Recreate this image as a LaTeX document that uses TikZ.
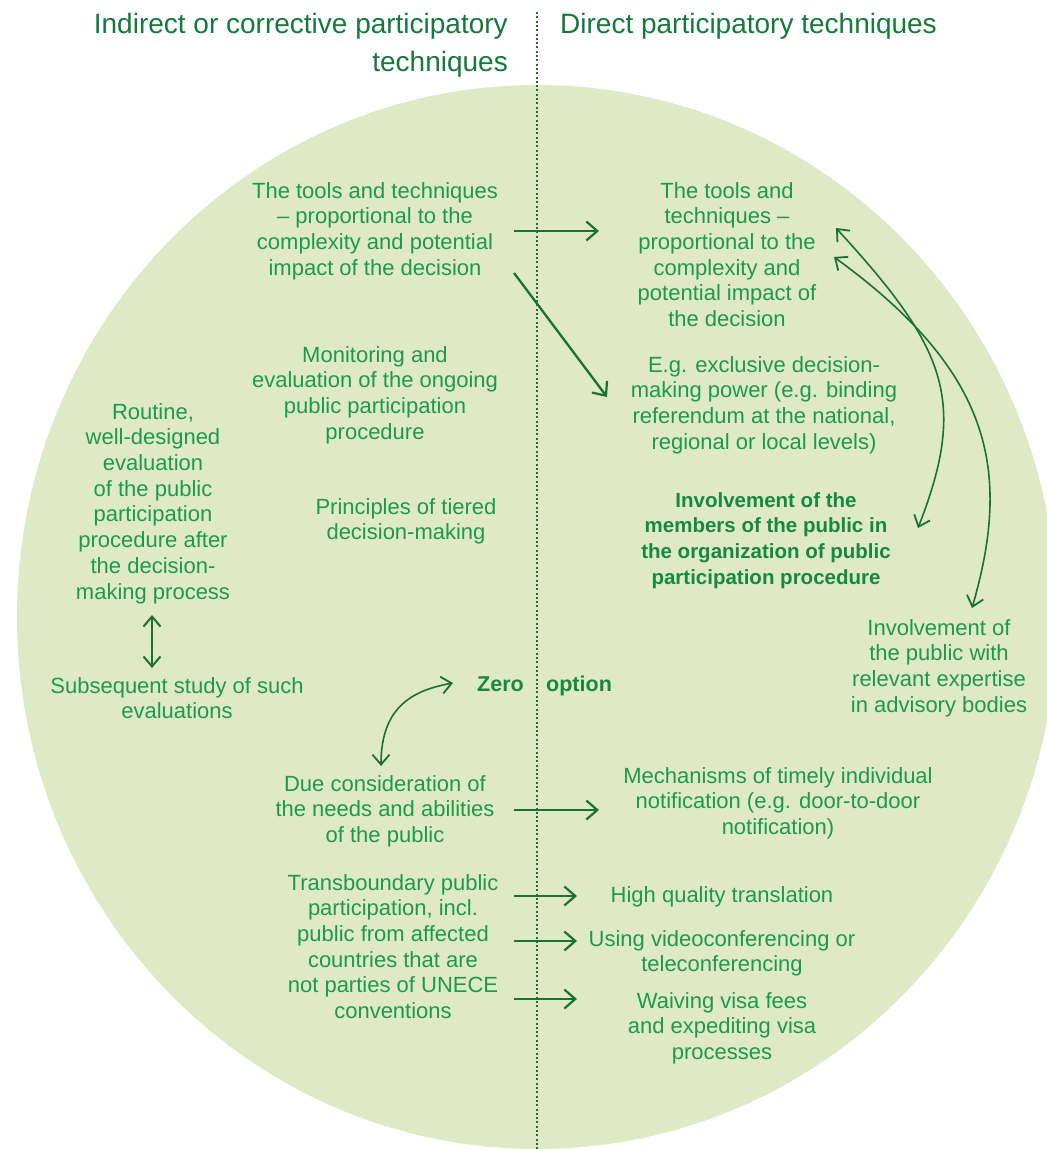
\documentclass[tikz,border=0pt]{standalone}
\usepackage{fontspec}
\setmainfont{Liberation Sans}
\usetikzlibrary{arrows.meta}
\definecolor{bgc}{HTML}{E0E9C6}
\definecolor{txtc}{HTML}{1B9B4A}
\definecolor{ttlc}{HTML}{14793B}
\definecolor{bldc}{HTML}{148A3F}
\definecolor{arrc}{HTML}{1A7035}
\begin{document}
\begin{tikzpicture}[x=1pt,y=-1pt,
  body/.style={text=txtc, align=center, inner sep=0pt, font=\fontsize{22}{25.7}\selectfont, anchor=north},
  boldtxt/.style={body, text=bldc, font=\bfseries\fontsize{20.5}{25.7}\selectfont},
  zerotxt/.style={text=bldc, inner sep=0pt, font=\bfseries\fontsize{21.5}{25.7}\selectfont},
  ttl/.style={text=ttlc, inner sep=0pt, font=\fontsize{28}{38}\selectfont},
  thick arrow/.style={draw=arrc, line width=2.3pt, -{Straight Barb[length=11pt,width=19pt,line width=2.2pt]}},
  both arrow/.style={draw=arrc, line width=2.1pt, {Straight Barb[length=10pt,width=17pt,line width=2pt]}-{Straight Barb[length=10pt,width=17pt,line width=2pt]}},
  thin arrow/.style={draw=arrc, line width=1.6pt, {Straight Barb[length=10pt,width=17pt,line width=1.8pt]}-{Straight Barb[length=10pt,width=17pt,line width=1.8pt]}},
  divider/.style={draw=arrc, line width=2pt, dash pattern=on 2pt off 2.3pt}
]
\useasboundingbox (0,0) rectangle (1047,1149);
\begin{scope}
\clip (0,0) rectangle (1047,1149);
\fill[bgc] (537,617) ellipse [x radius=520, y radius=532];
\end{scope}
\coordinate (divtop) at (537,12);
\coordinate (divbot) at (537,1149);
\draw[divider] (divtop) -- (divbot);

% titles
\node[ttl, anchor=north east, align=right] (tleft) at (508,12.6) {Indirect or corrective participatory\\techniques};
\node[ttl, anchor=north west, align=left] (tright) at (560,12.6) {Direct participatory techniques};

% left column
\node[body] (tools1) at (375,182) {The tools and techniques\\– proportional to the\\complexity and potential\\impact of the decision};
\node[body] (monit) at (375,346) {Monitoring and\\evaluation of the ongoing\\public participation\\procedure};
\node[body] (routine) at (153,403) {Routine,\\well-designed\\evaluation\\of the public\\participation\\procedure after\\the decision-\\making process};
\node[body] (tiered) at (406,498) {Principles of tiered\\decision-making};
\node[body] (subseq) at (177,677) {Subsequent study of such\\evaluations};
\node[zerotxt, anchor=base east] (zero) at (524,691) {Zero};
\node[zerotxt, anchor=base west] (option) at (546,691) {option};
\node[body] (dueconsid) at (385,775) {Due consideration of\\the needs and abilities\\of the public};
\node[body] (transb) at (393,874) {Transboundary public\\participation, incl.\\public from affected\\countries that are\\not parties of UNECE\\conventions};

% right column
\node[body] (tools2) at (727,182) {The tools and\\techniques –\\proportional to the\\complexity and\\potential impact of\\the decision};
\node[body] (exclusive) at (764,356) {E.g. exclusive decision-\\making power (e.g. binding\\referendum at the national,\\regional or local levels)};
\node[boldtxt] (members) at (766,492) {Involvement of the\\members of the public in\\the organization of public\\participation procedure};
\node[body] (advisory) at (939,619) {Involvement of\\the public with\\relevant expertise\\in advisory bodies};
\node[body] (mechan) at (778,767) {Mechanisms of timely individual\\notification (e.g. door-to-door\\notification)};
\node[body] (translation) at (722,886) {High quality translation};
\node[body] (videoconf) at (722,930) {Using videoconferencing or\\teleconferencing};
\node[body] (visa) at (722,992) {Waiving visa fees\\and expediting visa\\processes};

% connector end points
\coordinate (a1s) at (514,231);  \coordinate (a1e) at (599,231);
\coordinate (a2s) at (514,273);  \coordinate (a2e) at (607,397);
\coordinate (a3s) at (514,810);  \coordinate (a3e) at (599,810);
\coordinate (a4s) at (514,896);  \coordinate (a4e) at (577,896);
\coordinate (a5s) at (514,941);  \coordinate (a5e) at (577,941);
\coordinate (a6s) at (514,999);  \coordinate (a6e) at (577,999);
\coordinate (v1) at (152,615);   \coordinate (v2) at (152,668);
\coordinate (z1) at (381,766);   \coordinate (z2) at (453,683);
\coordinate (c1s) at (836,228);  \coordinate (c1e) at (918,528);
\coordinate (c2s) at (834,257);  \coordinate (c2e) at (972,608);

\draw[thick arrow] (a1s) -- (a1e);
\draw[thick arrow] (a2s) -- (a2e);
\draw[thick arrow] (a3s) -- (a3e);
\draw[thick arrow] (a4s) -- (a4e);
\draw[thick arrow] (a5s) -- (a5e);
\draw[thick arrow] (a6s) -- (a6e);
\draw[both arrow] (v1) -- (v2);
\draw[thin arrow] (z1) .. controls (381,705) and (415,690) .. (z2);
\draw[thin arrow] (c1s) .. controls (946,348) and (968,400) .. (c1e);
\draw[thin arrow] (c2s) .. controls (992,372) and (1012,470) .. (c2e);
\end{tikzpicture}
\end{document}
